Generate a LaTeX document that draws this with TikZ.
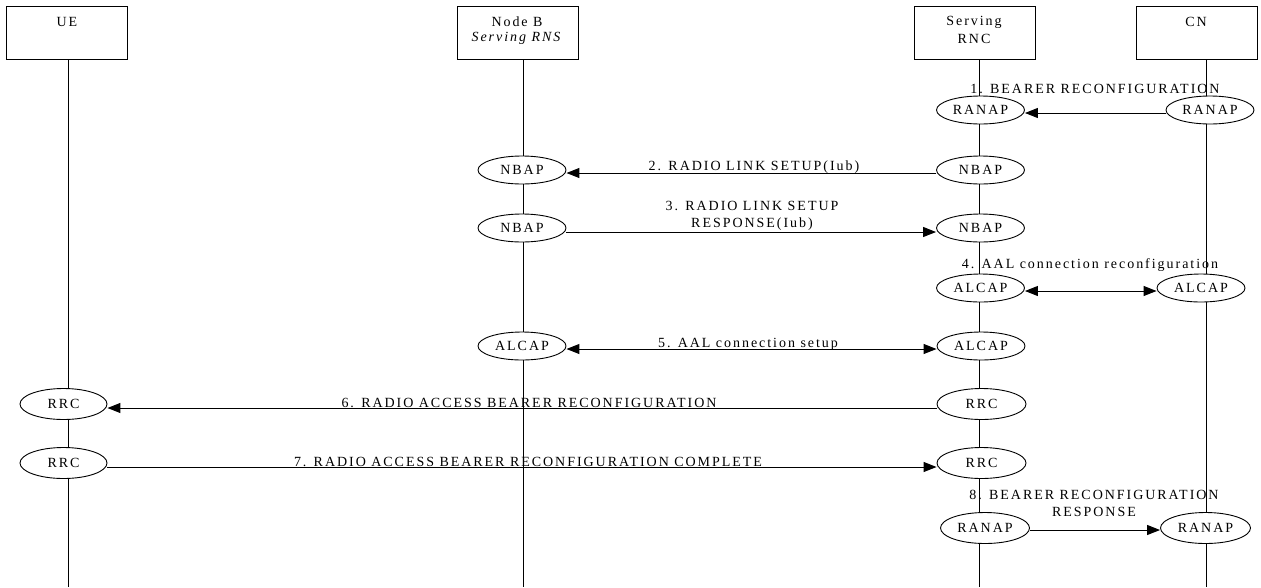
\documentclass[tikz,border=0pt]{standalone}
\usepackage{fontspec}
\setmainfont{Liberation Serif}[LetterSpace=14]
\usetikzlibrary{arrows.meta,shapes.geometric}
\begin{document}
\begin{tikzpicture}[x=1pt,y=-1pt,
  font=\fontsize{14}{17}\selectfont,
  hdr/.style={draw, line width=1pt, minimum width=121pt, minimum height=53pt, inner sep=0pt},
  hdrtxt/.style={inner sep=0pt, anchor=center},
  life/.style={line width=0.9pt},
  ent/.style={ellipse, draw, fill=white, line width=0.9pt, minimum width=88pt, minimum height=28pt, inner sep=0pt},
  msg/.style={line width=1pt, -{Triangle[length=13pt,width=10pt]}},
  dmsg/.style={line width=1pt, {Triangle[length=13pt,width=10pt]}-{Triangle[length=13pt,width=10pt]}},
  lbl/.style={inner sep=0pt, align=center}]
\useasboundingbox (0,0) rectangle (1261,587);

% header boxes
\node[hdr] (ue)  at (67,32.5) {};
\node[hdr] (nb)  at (518,32.5) {};
\node[hdr] (rnc) at (974.5,32.5) {};
\node[hdr] (cn)  at (1197,32.5) {};
\node[hdrtxt] (uet)  at (67,22) {UE};
\node[hdrtxt] (nbt1) at (517,22) {Node B};
\node[hdrtxt] (nbt2) at (517,38.5) {\textit{Serving RNS}};
\node[hdrtxt] (rnct1) at (974,22) {Serving};
\node[hdrtxt] (rnct2) at (974,38.5) {RNC};
\node[hdrtxt] (cnt)  at (1196,22) {CN};

% lifelines
\coordinate (ueend)  at (68,587);
\coordinate (nbend)  at (523.5,587);
\coordinate (rncend) at (979,587);
\coordinate (cnend)  at (1206.5,587);
\draw[life] (ueend |- ue.south) -- (ueend);
\draw[life] (nbend |- nb.south) -- (nbend);
\draw[life] (rncend |- rnc.south) -- (rncend);
\draw[life] (cnend |- cn.south) -- (cnend);

% protocol entities
\node[ent] (r1) at (980.5,110) {RANAP};
\node[ent] (c1) at (1210,110) {RANAP};
\node[ent] (b2) at (522,170) {NBAP};
\node[ent] (r2) at (980.5,170) {NBAP};
\node[ent] (b3) at (522,228) {NBAP};
\node[ent] (r3) at (980.5,228) {NBAP};
\node[ent] (r4) at (980.5,288) {ALCAP};
\node[ent] (c4) at (1201,288) {ALCAP};
\node[ent] (b5) at (522,346) {ALCAP};
\node[ent] (r5) at (981,346) {ALCAP};
\node[ent, minimum width=87pt, minimum height=31pt] (u6) at (63.5,404) {RRC};
\node[ent, minimum width=89pt, minimum height=31pt] (r6) at (981.5,404) {RRC};
\node[ent, minimum width=87pt, minimum height=31pt] (u7) at (63.5,463) {RRC};
\node[ent, minimum width=89pt, minimum height=31pt] (r7) at (981.5,463) {RRC};
\node[ent, minimum width=89pt, minimum height=31pt] (r8) at (985,528) {RANAP};
\node[ent, minimum width=90pt, minimum height=31pt] (c8) at (1205.5,528) {RANAP};

% messages
\draw[msg]  ([yshift=-3pt]c1.west) -- ([yshift=-3pt]r1.east);
\draw[msg]  ([yshift=-3pt]r2.west) -- ([yshift=-3pt]b2.east);
\draw[msg]  ([yshift=-4pt]b3.east) -- ([yshift=-4pt]r3.west);
\draw[dmsg] ([yshift=-3pt]r4.east) -- ([yshift=-3pt]c4.west);
\draw[dmsg] ([yshift=-3pt]b5.east) -- ([yshift=-3pt]r5.west);
\draw[msg]  ([yshift=-4pt]r6.west) -- ([yshift=-4pt]u6.east);
\draw[msg]  ([yshift=-4pt]u7.east) -- ([yshift=-4pt]r7.west);
\draw[msg]  ([yshift=-2pt]r8.east) -- ([yshift=-2pt]c8.west);

% message labels
\node[lbl] (m1) at (1095,89)  {1. BEARER RECONFIGURATION};
\node[lbl] (m2) at (754,167)  {2. RADIO LINK SETUP(Iub)};
\node[lbl] (m3) at (752,215.5) {3. RADIO LINK SETUP\\RESPONSE(Iub)};
\node[lbl] (m4) at (1090,265) {4. AAL connection reconfiguration};
\node[lbl] (m5) at (748,344)  {5. AAL connection setup};
\node[lbl] (m6) at (529,403)  {6. RADIO ACCESS BEARER RECONFIGURATION};
\node[lbl] (m7) at (528,462)  {7. RADIO ACCESS BEARER RECONFIGURATION COMPLETE};
\node[lbl] (m8) at (1094,503.5) {8. BEARER RECONFIGURATION\\RESPONSE};
\end{tikzpicture}
\end{document}
